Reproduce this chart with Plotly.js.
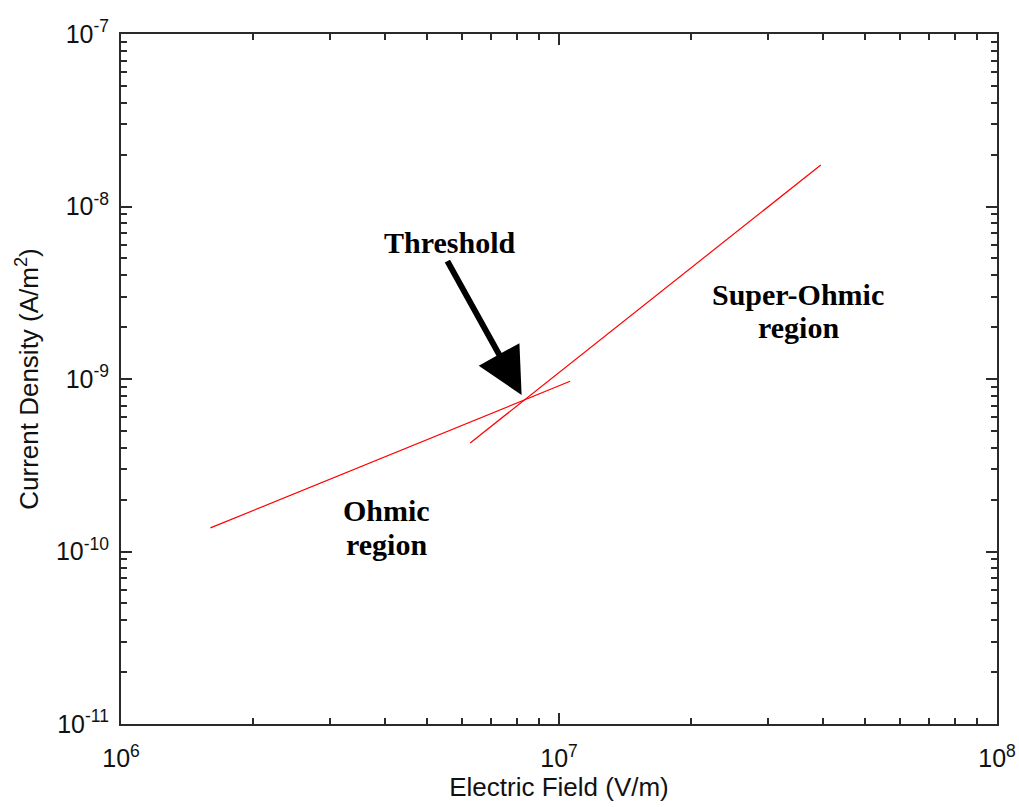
<!DOCTYPE html>
<html>
<head>
<meta charset="utf-8">
<script src="https://cdn.plot.ly/plotly-3.0.1.min.js"></script>
<style>
  html, body { margin: 0; padding: 0; background: #fff; }
  #chart { width: 1019px; height: 807px; }
</style>
</head>
<body>
<div id="chart"></div>
<script>
// Ohmic fit (slope ~1 on log-log)
const ohmicField = [1.6e6, 1.06e7];
const ohmicCurrent = [1.37e-10, 9.7e-10];

// Super-Ohmic fit (slope ~2 on log-log)
const superField = [6.27e6, 3.96e7];
const superCurrent = [4.26e-10, 1.74e-8];

// Crossover of the two fits
const thresholdField = 8.3e6;
const thresholdCurrent = 7.7e-10;

// Decade tick marks and their labels
const xTickVals = [1e6, 1e7, 1e8];
const xTickText = ['10<sup>6</sup>', '10<sup>7</sup>', '10<sup>8</sup>'];
const yTickVals = [1e-11, 1e-10, 1e-9, 1e-8, 1e-7];
const yTickText = ['10<sup>-11</sup>', '10<sup>-10</sup>', '10<sup>-9</sup>', '10<sup>-8</sup>', '10<sup>-7</sup>'];

const lineStyle = { color: '#ff0000', width: 1.2 };

const traces = [
  { x: ohmicField, y: ohmicCurrent, mode: 'lines', line: lineStyle, hoverinfo: 'skip' },
  { x: superField, y: superCurrent, mode: 'lines', line: lineStyle, hoverinfo: 'skip' }
];

const axisCommon = {
  type: 'log',
  showgrid: false,
  zeroline: false,
  showline: true,
  linecolor: '#2a2a2a',
  linewidth: 2,
  mirror: 'allticks',
  ticks: 'inside',
  ticklen: 11,
  tickwidth: 2,
  tickcolor: '#2a2a2a',
  tickmode: 'array',
  tickfont: { family: 'Liberation Sans, Arial, sans-serif', size: 25, color: '#111' },
  minor: { ticks: 'inside', ticklen: 6, tickwidth: 2, tickcolor: '#2a2a2a', dtick: 'D1', showgrid: false }
};

const titleFont = { family: 'Liberation Sans, Arial, sans-serif', size: 26, color: '#111' };
const labelFont = { family: 'Liberation Serif, Times New Roman, serif', size: 30, color: '#000', weight: 'bold' };
const lg = Math.log10;

// one annotation per text line so the line spacing stays tight
function label(text, x, y) {
  return { x: x, y: y, xref: 'x', yref: 'y', showarrow: false, text: text, font: labelFont };
}

const layout = {
  width: 1019,
  height: 807,
  margin: { l: 121, r: 22, t: 34, b: 83 },
  paper_bgcolor: '#fff',
  plot_bgcolor: '#fff',
  showlegend: false,
  xaxis: Object.assign({}, axisCommon, {
    range: [6, 8],
    tickvals: xTickVals,
    ticktext: xTickText,
    ticklabelstandoff: 11,
    title: { text: 'Electric Field (V/m)', font: titleFont, standoff: 4 }
  }),
  yaxis: Object.assign({}, axisCommon, {
    range: [-11, -7],
    tickvals: yTickVals,
    ticktext: yTickText,
    ticklabelstandoff: 5,
    title: { text: 'Current Density (A/m<sup>2</sup>)', font: titleFont, standoff: 10 }
  }),
  annotations: [
    {
      x: lg(thresholdField), y: lg(thresholdCurrent), xref: 'x', yref: 'y',
      showarrow: true, arrowhead: 2, arrowwidth: 6, arrowsize: 1.55, arrowcolor: '#000',
      ax: -77, ay: -139, standoff: 4, text: ''
    },
    label('Threshold', 6.749, -8.206),
    label('Super-Ohmic', 7.546, -8.513),
    label('region', 7.546, -8.704),
    label('Ohmic', 6.607, -9.765),
    label('region', 6.607, -9.962)
  ]
};

Plotly.newPlot('chart', traces, layout, { staticPlot: true, displayModeBar: false });
</script>
</body>
</html>
